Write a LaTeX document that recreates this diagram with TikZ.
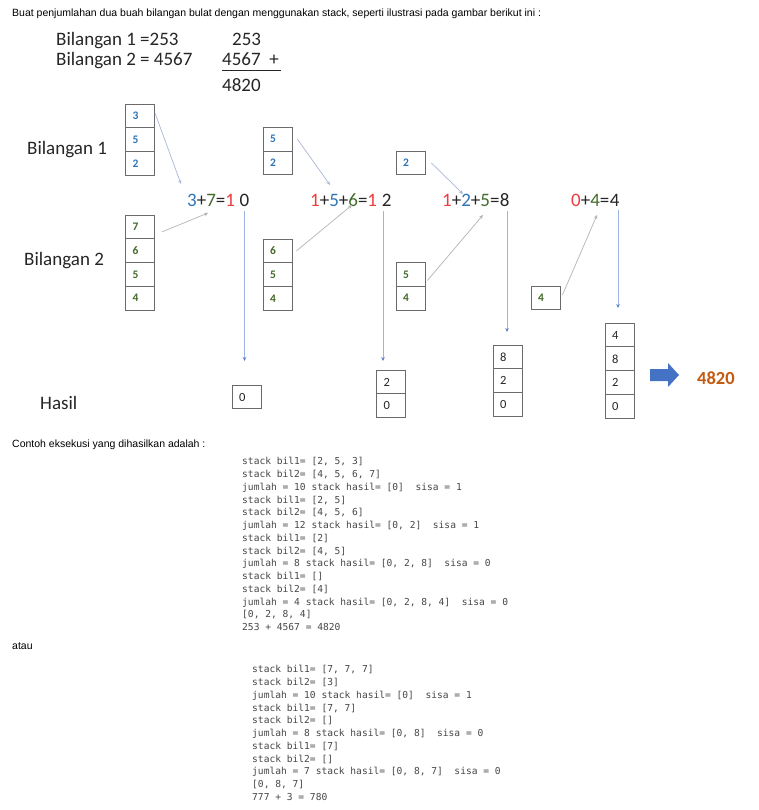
\documentclass[tikz,border=0pt]{standalone}
\usepackage{fontspec}
\setmainfont{Liberation Sans}
\newfontfamily\calfont{Carlito}
\newfontfamily\monofont{DejaVu Sans Mono}
\usetikzlibrary{arrows.meta}
\definecolor{blueT}{HTML}{2E75B6}
\definecolor{greenT}{HTML}{436A28}
\definecolor{redT}{HTML}{EE3B3B}
\definecolor{darkT}{HTML}{262626}
\definecolor{boxc}{HTML}{6A6A6A}
\definecolor{arrB}{HTML}{A9B8D6}
\definecolor{arrG}{HTML}{B4B4B4}
\definecolor{arrV}{HTML}{9DB5E0}
\definecolor{tipV}{HTML}{5B7FC4}
\definecolor{orangeT}{HTML}{C55A11}
\definecolor{bigArrow}{HTML}{4472C4}
\begin{document}
\begin{tikzpicture}[x=1pt,y=-1pt,
  cell/.style={draw=boxc, line width=0.9pt, minimum width=29pt, minimum height=23.75pt,
    inner xsep=7pt, inner ysep=0pt, text width=15pt, align=left,
    font=\calfont\bfseries\fontsize{11.5}{12}\selectfont},
  cellA/.style={cell, text=blueT},
  cellB/.style={cell, text=greenT},
  cellR/.style={cell, text=darkT, font=\calfont\fontsize{12.5}{13}\selectfont},
  big/.style={inner sep=0pt, anchor=base west, text=darkT, font=\calfont\fontsize{19}{22}\selectfont},
  plain/.style={inner sep=0pt, anchor=base west, text=black, font=\fontsize{10.5}{12}\selectfont},
  code/.style={inner sep=0pt, anchor=north west, align=left, text=darkT!85, font=\monofont\fontsize{9.6}{12.75}\selectfont},
  arrBlue/.style={draw=arrB, line width=0.7pt, -{Stealth[length=4pt,width=3.5pt]}},
  arrGray/.style={draw=arrG, line width=0.7pt, -{Stealth[length=4pt,width=3.5pt]}},
  arrVert/.style={draw=arrV, line width=0.8pt, -{Stealth[length=4pt,width=3.5pt,color=tipV]}}
]
\useasboundingbox (0,0) rectangle (759,810);
\fill[white] (0,0) rectangle (759,810);

% header
\node[plain] (hdr) at (12,16.5) {Buat penjumlahan dua buah bilangan bulat dengan menggunakan stack, seperti ilustrasi pada gambar berikut ini :};

% top sums
\node[big] (bil1) at (56,45.7) {Bilangan 1 =253};
\node[big] (bil2) at (56,65.7) {Bilangan 2 = 4567};
\node[big] (n1) at (232,45.7) {253};
\node[big] (n2) at (222,65.7) {4567\ \ +};
\draw[darkT, line width=0.9pt] ([yshift=-5pt]n2.base west) -- ++(59,0);
\node[big] (n3) at (222,91.7) {4820};

% row labels
\node[big] (lab1) at (27,155) {Bilangan 1};
\node[big] (lab2) at (24,265.7) {Bilangan 2};
\node[big] (lab3) at (40,409) {Hasil};

% column 1 stacks
\node[cellA] (a13) at (140,115.9) {3};
\node[cellA] (a15) at (140,139.6) {5};
\node[cellA] (a12) at (140,163.4) {2};
\node[cellB] (b17) at (140,226.9) {7};
\node[cellB] (b16) at (140,250.6) {6};
\node[cellB] (b15) at (140,274.4) {5};
\node[cellB] (b14) at (140,298.1) {4};

% column 2 stacks
\node[cellA] (a25) at (277.5,139.2) {5};
\node[cellA] (a22) at (277.5,162.9) {2};
\node[cellB] (b26) at (277.5,250.9) {6};
\node[cellB] (b25) at (277.5,274.6) {5};
\node[cellB] (b24) at (277.5,298.4) {4};

% column 3 stacks
\node[cellA] (a32) at (410.5,163) {2};
\node[cellB] (b35) at (410.5,274.4) {5};
\node[cellB] (b34) at (410.5,298.1) {4};

% column 4 stack
\node[cellB] (b44) at (545.5,298) {4};

% equations
\node[big] (e1) at (187,207) {\textcolor{blueT}{3}+\textcolor{greenT}{7}=\textcolor{redT}{1}};
\node[big] (d1) at ([xshift=4.3pt]e1.base east) {0};
\node[big] (e2) at (310,207) {\textcolor{redT}{1}+\textcolor{blueT}{5}+\textcolor{greenT}{6}=\textcolor{redT}{1}};
\node[big] (d2) at ([xshift=4.3pt]e2.base east) {2};
\node[big] (e3) at (442,207) {\textcolor{redT}{1}+\textcolor{blueT}{2}+\textcolor{greenT}{5}=};
\node[big] (d3) at (e3.base east) {8};
\node[big] (e4) at (571,207) {\textcolor{redT}{0}+\textcolor{greenT}{4}=};
\node[big] (d4) at (e4.base east) {4};

% result stacks
\node[cellR] (r10) at (246.5,397) {0};
\node[cellR] (r22) at (391,382) {2};
\node[cellR] (r20) at (391,405.8) {0};
\node[cellR] (r38) at (507.5,357) {8};
\node[cellR] (r32) at (507.5,380.8) {2};
\node[cellR] (r30) at (507.5,404.5) {0};
\node[cellR] (r44) at (619.5,335) {4};
\node[cellR] (r48) at (619.5,358.8) {8};
\node[cellR] (r42) at (619.5,382.5) {2};
\node[cellR] (r40) at (619.5,406.3) {0};

% arrow targets
\coordinate (t1) at (181,184);
\coordinate (t2) at (208,213);
\coordinate (t3) at (330,185);
\coordinate (t4) at (352,205);
\coordinate (t5) at (463,194);
\coordinate (t6) at (483,215);
\coordinate (t7) at (597,215);
\coordinate (v1) at (244.5,361);
\coordinate (v2) at (383,361);
\coordinate (v3) at (507,332);
\coordinate (v4) at (618,308);

% slanted arrows
\draw[arrBlue] ([yshift=3pt]a13.east) -- (t1);
\draw[arrGray] ([shift={(7pt,-5pt)}]b17.east) -- (t2);
\draw[arrBlue] ([xshift=5pt]a25.east) -- (t3);
\draw[arrGray] ([xshift=4pt]b26.east) -- (t4);
\draw[arrBlue] ([xshift=6pt]a32.east) -- (t5);
\draw[arrGray] ([shift={(2pt,-6pt)}]b35.east) -- (t6);
\draw[arrGray] ([shift={(2pt,3pt)}]b44.east) -- (t7);

% vertical arrows
\draw[arrVert] ([yshift=-4pt]d1.south -| v1) -- (v1);
\draw[arrVert] ([yshift=-4pt]d2.south -| v2) -- (v2);
\draw[arrVert] ([yshift=-4pt]d3.south -| v3) -- (v3);
\draw[arrVert] ([yshift=-3pt]d4.south -| v4) -- (v4);

% block arrow and result
\fill[bigArrow] (650,369) -- (668,369) -- (668,363) -- (679,375) -- (668,387) -- (668,381) -- (650,381) -- cycle;
\node[big, text=orangeT, font=\calfont\bfseries\fontsize{18.5}{22}\selectfont] (res) at (697,384.5) {4820};

% execution examples
\node[plain] (ex1) at (12,447) {Contoh eksekusi yang dihasilkan adalah :};
\node[code] (code1) at (242,457.2) {stack bil1= [2, 5, 3]\\
stack bil2= [4, 5, 6, 7]\\
jumlah = 10 stack hasil= [0]~~sisa = 1\\
stack bil1= [2, 5]\\
stack bil2= [4, 5, 6]\\
jumlah = 12 stack hasil= [0, 2]~~sisa = 1\\
stack bil1= [2]\\
stack bil2= [4, 5]\\
jumlah = 8 stack hasil= [0, 2, 8]~~sisa = 0\\
stack bil1= []\\
stack bil2= [4]\\
jumlah = 4 stack hasil= [0, 2, 8, 4]~~sisa = 0\\
{}[0, 2, 8, 4]\\
253 + 4567 = 4820};
\node[plain] (ex2) at (12,649.5) {atau};
\node[code] (code2) at (252,665.2) {stack bil1= [7, 7, 7]\\
stack bil2= [3]\\
jumlah = 10 stack hasil= [0]~~sisa = 1\\
stack bil1= [7, 7]\\
stack bil2= []\\
jumlah = 8 stack hasil= [0, 8]~~sisa = 0\\
stack bil1= [7]\\
stack bil2= []\\
jumlah = 7 stack hasil= [0, 8, 7]~~sisa = 0\\
{}[0, 8, 7]\\
777 + 3 = 780};
\end{tikzpicture}
\end{document}
